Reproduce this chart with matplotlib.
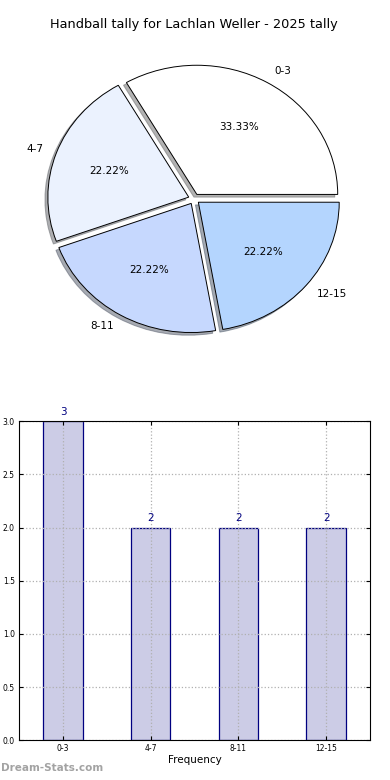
import matplotlib
matplotlib.use("Agg")
import matplotlib.pyplot as plt
import numpy as np

categories = ["0-3", "4-7", "8-11", "12-15"]
counts = [3, 2, 2, 2]
pie_colors = ["#ffffff", "#ebf2fe", "#c6d8fe", "#b4d5fe"]

fig = plt.figure(figsize=(3.9, 7.8), dpi=100)

# pie on top (squashed, like the old default with non-equal aspect)
ax1 = fig.add_axes([0.046, 0.538, 0.903, 0.414])
wedges, texts, autotexts = ax1.pie(
    counts, labels=categories, colors=pie_colors, autopct="%.2f%%",
    explode=[0.04] * len(counts),
    shadow={"ox": -0.015, "oy": -0.015, "shade": 0.6},
    startangle=0,
    wedgeprops={"edgecolor": "black", "linewidth": 0.7},
    textprops={"fontsize": 7.5})
ax1.set_aspect("auto")
ax1.set_xlim(-1.25, 1.25)
ax1.set_ylim(-1.25, 1.25)
ax1.set_title("Handball tally for Lachlan Weller - 2025 tally", fontsize=9.3, pad=7)

# bar chart below
ax2 = fig.add_axes([0.049, 0.051, 0.9, 0.409])
x = np.arange(len(categories))
ax2.bar(x, counts, width=0.45, color="#ccccE6", edgecolor="navy", linewidth=0.9, zorder=2)
for xi, c in zip(x, counts):
    ax2.text(xi, c + 0.04, str(c), ha="center", va="bottom", color="navy", fontsize=7.5)
ax2.set_xlim(-0.5, 3.5)
ax2.set_ylim(0, 3.0)
ax2.set_xticks(x)
ax2.set_xticklabels(categories)
ax2.set_yticks(np.arange(0, 3.01, 0.5))
ax2.tick_params(labelsize=5.5, direction="in", top=True, right=True, length=3, pad=3)
ax2.grid(True, linestyle=":", color="#b0b0b0", linewidth=0.9, zorder=3)
ax2.set_axisbelow(False)
ax2.set_xlabel("Frequency", fontsize=7.5, labelpad=1)
for s in ax2.spines.values():
    s.set_linewidth(0.8)
    s.set_zorder(5)

fig.text(0.003, 0.012, "Dream-Stats.com", fontsize=7.5, color="#999999", fontweight="semibold", alpha=0.9)

fig.savefig("out.png", dpi=100)
